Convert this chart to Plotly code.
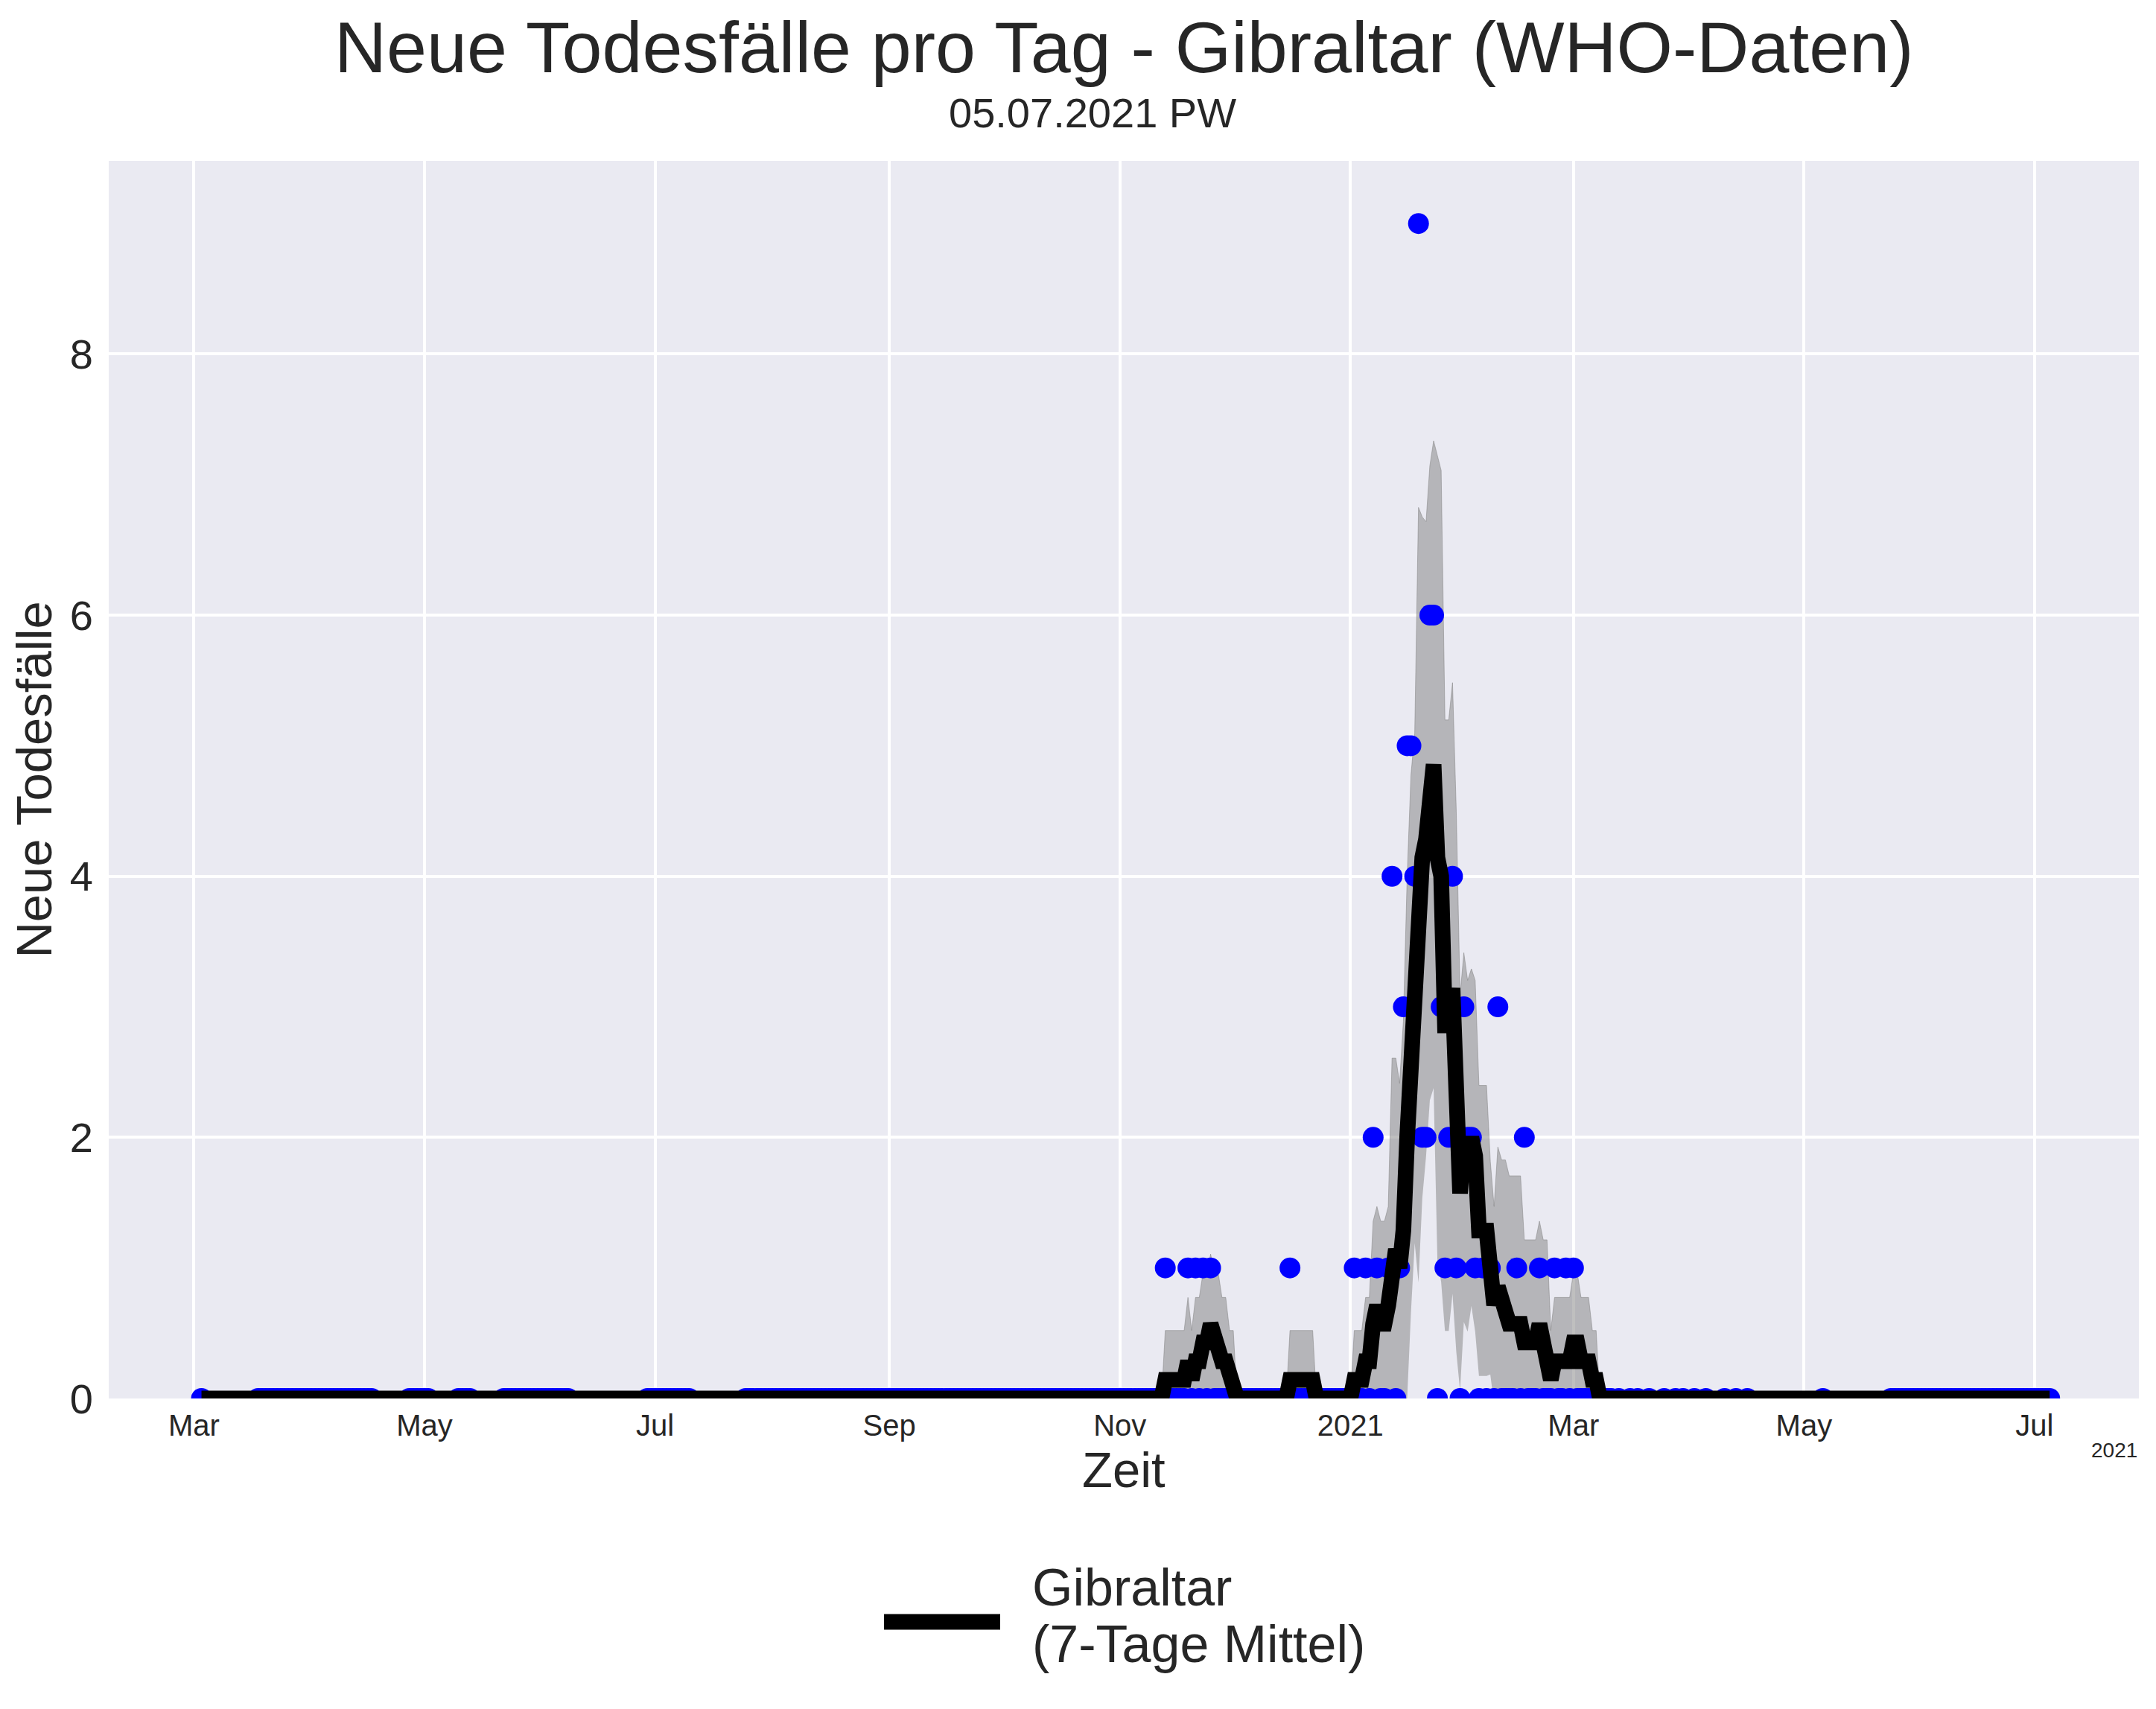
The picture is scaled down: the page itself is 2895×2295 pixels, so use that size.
import pandas as pd
import plotly.graph_objects as go

# Tageswerte (Gibraltar, WHO) - nur Tage mit Todesfaellen
datum_start = "2020-03-03"
datum_ende = "2021-07-05"

tode_datum = [
    "2020-11-13", "2020-11-19", "2020-11-21", "2020-11-23", "2020-11-25",
    "2020-12-16",
    "2021-01-02", "2021-01-05", "2021-01-07", "2021-01-08", "2021-01-11",
    "2021-01-12", "2021-01-14", "2021-01-15", "2021-01-16", "2021-01-17",
    "2021-01-18", "2021-01-19", "2021-01-20", "2021-01-21", "2021-01-22",
    "2021-01-23", "2021-01-25", "2021-01-26", "2021-01-27", "2021-01-28",
    "2021-01-29", "2021-01-31", "2021-02-01", "2021-02-02", "2021-02-03",
    "2021-02-05", "2021-02-07", "2021-02-09", "2021-02-14", "2021-02-16",
    "2021-02-20", "2021-02-24", "2021-02-27", "2021-03-01",
]
tode_anzahl = [
    1, 1, 1, 1, 1,
    1,
    1, 1, 2, 1, 1,
    4, 1, 3, 5, 5,
    4, 9, 2, 2, 6,
    6, 3, 1, 2, 4,
    1, 3, 2, 2, 1,
    1, 1, 3, 1, 2,
    1, 1, 1, 1,
]

# Tage mit gemeldeter Null (Punkte auf der x-Achse)
null_bereiche = [
    ("2020-03-03", "2020-03-03"), ("2020-03-18", "2020-04-17"),
    ("2020-04-27", "2020-05-02"), ("2020-05-10", "2020-05-13"),
    ("2020-05-22", "2020-06-08"), ("2020-06-29", "2020-07-10"),
    ("2020-07-25", "2021-03-11"),
]
null_einzeln = [
    "2021-03-13", "2021-03-16", "2021-03-18", "2021-03-21", "2021-03-25",
    "2021-03-28", "2021-03-30", "2021-04-02", "2021-04-05", "2021-04-10",
    "2021-04-13", "2021-04-16", "2021-05-06",
]
null_bereiche_2 = [("2021-05-24", "2021-07-05")]

tick_datum = ["2020-03-01", "2020-05-01", "2020-07-01", "2020-09-01", "2020-11-01",
              "2021-01-01", "2021-03-01", "2021-05-01", "2021-07-01"]
tick_text = ["Mar", "May", "Jul", "Sep", "Nov", "2021", "Mar", "May", "Jul"]

# Tagesreihe aufbauen
tage = pd.date_range(datum_start, datum_ende, freq="D")
df = pd.DataFrame({"neu": 0.0}, index=tage)
df.loc[pd.to_datetime(tode_datum), "neu"] = tode_anzahl

mittel = df["neu"].rolling(7, min_periods=1).mean()
streuung = df["neu"].rolling(7, min_periods=1).std().fillna(0)

# Punkte: gemeldete Tage
punkt_tage = set(pd.to_datetime(tode_datum))
for a, b in null_bereiche + null_bereiche_2:
    punkt_tage.update(pd.date_range(a, b, freq="D"))
punkt_tage.update(pd.to_datetime(null_einzeln))
punkt_tage = sorted(punkt_tage)
punkte = df.loc[punkt_tage, "neu"]

fig = go.Figure()

# Band Mittel +/- Std
fig.add_trace(go.Scatter(x=tage, y=mittel - streuung, mode="lines",
                         line=dict(width=0, color="rgba(128,128,128,0.5)"),
                         hoverinfo="skip", showlegend=False))
fig.add_trace(go.Scatter(x=tage, y=mittel + streuung, mode="lines", fill="tonexty",
                         fillcolor="rgba(128,128,128,0.5)",
                         line=dict(width=1, color="rgba(128,128,128,0.5)"),
                         hoverinfo="skip", showlegend=False))

# Tageswerte
fig.add_trace(go.Scatter(x=punkte.index, y=punkte.values, mode="markers",
                         marker=dict(color="blue", size=28, line=dict(width=0)),
                         showlegend=False, name="Tageswerte"))

# 7-Tage Mittel
fig.add_trace(go.Scatter(x=tage, y=mittel, mode="lines",
                         line=dict(color="black", width=21),
                         name="Gibraltar (7-Tage Mittel)", showlegend=False))

schrift = "Liberation Sans, Arial, sans-serif"
grau = "#262626"

# Seite hat 8px Rand im Browser -> Figur etwas kleiner
fig.update_layout(
    width=2879, height=2279, autosize=False,
    margin=dict(l=138, r=15, t=208, b=409, pad=0),
    paper_bgcolor="white", plot_bgcolor="#EAEAF2",
    font=dict(family=schrift, color=grau),
    showlegend=False,
)

fig.update_xaxes(
    type="date", range=["2020-02-07 11:00", "2021-07-28 14:24"],
    tickvals=tick_datum, ticktext=tick_text,
    tickfont=dict(size=40, color=grau),
    ticks="outside", ticklen=1, tickcolor="rgba(0,0,0,0)",
    showgrid=True, gridcolor="white", gridwidth=3.5,
    zeroline=False, showline=False,
)
fig.update_yaxes(
    range=[0, 9.48], tickvals=[0, 2, 4, 6, 8],
    tickfont=dict(size=56, color=grau),
    ticks="outside", ticklen=9, tickcolor="rgba(0,0,0,0)",
    showgrid=True, gridcolor="white", gridwidth=3.5,
    zeroline=False, showline=False,
)

# Titel und Beschriftungen
fig.add_annotation(text="Neue Todesfälle pro Tag - Gibraltar (WHO-Daten)",
                   xref="paper", yref="paper", x=0.5, y=1.092,
                   xanchor="center", yanchor="middle", showarrow=False,
                   font=dict(size=97, color=grau, family=schrift))
fig.add_annotation(text="05.07.2021 PW",
                   xref="paper", yref="paper", x=0.4846, y=1.039,
                   xanchor="center", yanchor="middle", showarrow=False,
                   font=dict(size=56, color=grau, family=schrift))
fig.add_annotation(text="Zeit",
                   xref="paper", yref="paper", x=0.5, y=-0.0572,
                   xanchor="center", yanchor="middle", showarrow=False,
                   font=dict(size=67, color=grau, family=schrift))
fig.add_annotation(text="Neue Todesfälle", textangle=-90,
                   xref="paper", yref="paper", x=-0.0372, y=0.5,
                   xanchor="center", yanchor="middle", showarrow=False,
                   font=dict(size=67, color=grau, family=schrift))
fig.add_annotation(text="2021",
                   xref="paper", yref="paper", x=1.0, y=-0.042,
                   xanchor="right", yanchor="middle", showarrow=False,
                   font=dict(size=28, color=grau, family=schrift))

# Legende unten
fig.add_shape(type="line", xref="paper", yref="paper",
              x0=0.3819, x1=0.4391, y0=-0.1805, y1=-0.1805,
              line=dict(color="black", width=21))
fig.add_annotation(text="Gibraltar",
                   xref="paper", yref="paper", x=0.4542, y=-0.1528,
                   xanchor="left", yanchor="middle", showarrow=False,
                   font=dict(size=70, color=grau, family=schrift))
fig.add_annotation(text="(7-Tage Mittel)",
                   xref="paper", yref="paper", x=0.4542, y=-0.1986,
                   xanchor="left", yanchor="middle", showarrow=False,
                   font=dict(size=70, color=grau, family=schrift))

fig.write_html("out.html")
